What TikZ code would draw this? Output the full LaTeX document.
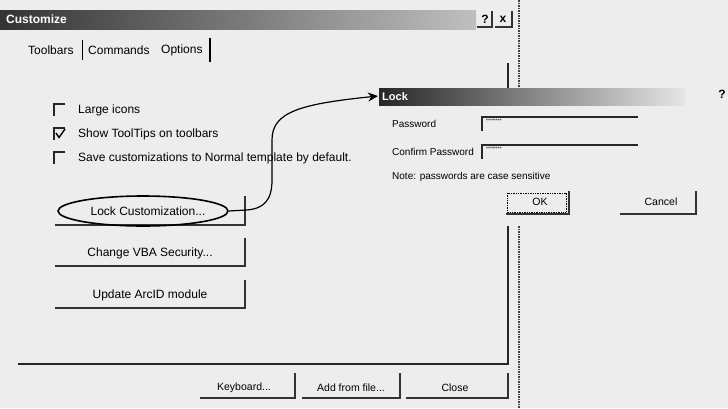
\documentclass[tikz,border=0pt]{standalone}
\usepackage{fontspec}
\setmainfont{Liberation Sans}
\usetikzlibrary{arrows.meta,shapes.geometric}
\begin{document}
\begin{tikzpicture}[x=1pt,y=-1pt,
  lbl/.style={font=\fontsize{12}{14}\selectfont, inner sep=0pt, anchor=west},
  btntext/.style={font=\fontsize{12}{14}\selectfont, inner sep=0pt},
  smalllbl/.style={font=\fontsize{10}{12}\selectfont, inner sep=0pt, anchor=west},
  smallbtn/.style={font=\fontsize{10.5}{12}\selectfont, inner sep=0pt},
  wintitle/.style={font=\fontsize{12}{14}\selectfont\bfseries, inner sep=0pt, anchor=west, text=white},
  edge3d/.style={line width=1.2pt, draw=black!80},
  sunken/.style={line width=1.2pt, draw=black!85},
  frame/.style={line width=1.5pt, draw=black!75, densely dotted},
  panel/.style={line width=1.3pt, draw=black!85},
  masked/.style={font=\fontsize{5}{5}\selectfont, inner sep=0pt, anchor=west},
]
\useasboundingbox (0,0) rectangle (728,408);
\fill[black!7] (0,0) rectangle (728,408);

% ---- Customize window ----
\shade[left color=black!80, right color=black!25] (0,10) rectangle (476,29);
\node[wintitle] (custtitle) at (6,19.5) {Customize};
\node[btntext, font=\fontsize{12}{14}\selectfont\bfseries] (helpbtn) at (485,19) {?};
\draw[edge3d] (477,27) -- (492,27) -- (492,11);
\node[btntext, font=\fontsize{12}{14}\selectfont\bfseries] (closebtn) at (503,19) {x};
\draw[edge3d] (495,27) -- (512,27) -- (512,11);

% window border on the right
\draw[frame] (519,0) -- (519,88);
\draw[frame] (519,226) -- (519,408);

% tabs
\node[lbl] (tabtb) at (28,50) {Toolbars};
\draw[line width=0.9pt] (82,40) -- (82,60);
\node[lbl] (tabcm) at (88,50) {Commands};
\node[lbl] (tabop) at (161,50) {Options};
\draw[line width=1.3pt] (210,38) -- (210,62);

% options page frame
\draw[panel] (508,63) -- (508,88);
\draw[panel] (508,226) -- (508,364) -- (18,364);

% check boxes
\draw[sunken] (65,104) -- (54,104) -- (54,116);
\node[lbl] (optlarge) at (78,110) {Large icons};
\draw[sunken] (65,128) -- (54,128) -- (54,140);
\draw[line width=1.4pt] (56,133) -- (59,137.5) -- (65,129);
\node[lbl] (opttips) at (78,134) {Show ToolTips on toolbars};
\draw[sunken] (65,152) -- (54,152) -- (54,164);
\node[lbl] (optsave) at (78,158) {Save customizations to Normal template by default.};

% command buttons
\node[btntext] (lockbtn) at (148,211) {Lock Customization...};
\draw[edge3d] (55,225) -- (245,225) -- (245,196);
\node[ellipse, draw, line width=1.6pt, minimum width=170pt, minimum height=30pt, inner sep=0pt] (ring) at (143,211) {};
\node[btntext] (vbabtn) at (150,253) {Change VBA Security...};
\draw[edge3d] (55,266) -- (245,266) -- (245,238);
\node[btntext] (arcbtn) at (150,295) {Update ArcID module};
\draw[edge3d] (55,308) -- (245,308) -- (245,280);

% bottom buttons
\node[smallbtn] (kbbtn) at (244,388) {Keyboard...};
\draw[edge3d] (200,398) -- (295,398) -- (295,373);
\node[smallbtn] (addbtn) at (351,388) {Add from file...};
\draw[edge3d] (302,398) -- (400,398) -- (400,373);
\node[smallbtn] (clsbtn) at (455,388) {Close};
\draw[edge3d] (406,398) -- (508,398) -- (508,373);

% ---- Lock dialog ----
\shade[left color=black!85, right color=black!10] (379,88) rectangle (685,105);
\coordinate (lockbar) at (378,96);
\node[wintitle, font=\fontsize{11}{13}\selectfont\bfseries] (locktitle) at (382,96.5) {Lock};
\node[btntext, font=\fontsize{12}{14}\selectfont\bfseries] (lockhelp) at (722,94) {?};

\node[smalllbl] (pwlbl) at (392,124) {Password};
\draw[sunken] (638,117) -- (482,117) -- (482,131);
\node[masked] (pwtext) at (486,121) {********};
\node[smalllbl] (cpwlbl) at (392,152) {Confirm Password};
\draw[sunken] (638,145) -- (482,145) -- (482,159);
\node[masked] (cpwtext) at (486,149) {********};
\node[smalllbl] (note) at (392,177) {Note: passwords are case sensitive};

\node[smallbtn] (okbtn) at (540,202) {OK};
\draw[line width=0.7pt, densely dotted] (507,193) rectangle (566,212);
\draw[edge3d] (506,214) -- (569,214) -- (569,191);
\node[smallbtn] (cancelbtn) at (661,202) {Cancel};
\draw[edge3d] (620,214) -- (696,214) -- (696,191);

% pointer from the button to the dialog
\draw[line width=1.2pt, -{Stealth[length=10pt,width=9pt]}]
  (ring.east) -- (246,210) .. controls (264,209) and (272,200) .. (272,180)
  -- (272,140) .. controls (272,112) and (300,104) .. (lockbar);
\end{tikzpicture}
\end{document}
